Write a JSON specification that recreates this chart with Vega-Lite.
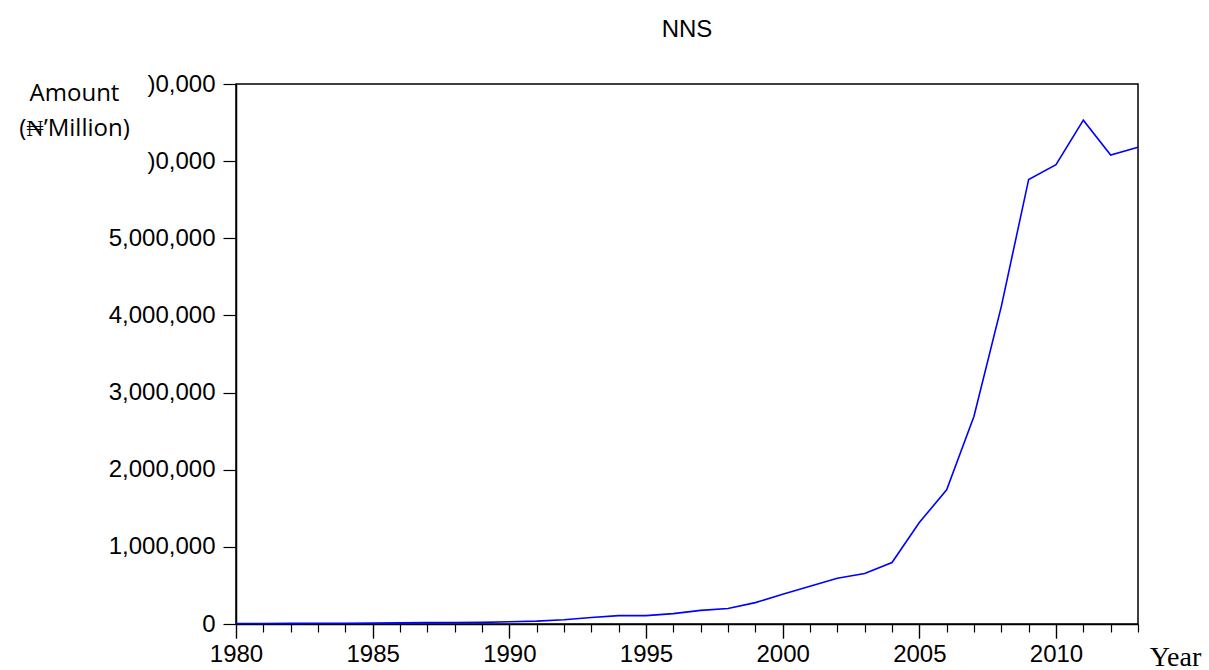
{
  "$schema": "https://vega.github.io/schema/vega-lite/v6.json",
  "width": 902,
  "height": 540,
  "autosize": {"type": "none"},
  "padding": {"left": 236, "top": 84, "right": 71, "bottom": 46},
  "background": "white",
  "title": {"text": "NNS", "font": "Liberation Sans", "fontSize": 24, "fontWeight": "normal", "color": "black", "anchor": "middle", "baseline": "alphabetic", "offset": 11},
  "config": {"view": {"stroke": "black", "strokeWidth": 1.5}, "axis": {"grid": false, "ticks": true, "tickWidth": 1.2, "tickOpacity": 1, "domainColor": "black", "domainWidth": 1.5, "tickColor": "black", "labelColor": "black", "labelFont": "Liberation Sans", "labelFontSize": 24, "titleColor": "black"}},
  "data": {"values": [
    {"year": 1980, "nns": 5800}, {"year": 1981, "nns": 6500}, {"year": 1982, "nns": 7500}, {"year": 1983, "nns": 9000},
    {"year": 1984, "nns": 10500}, {"year": 1985, "nns": 12500}, {"year": 1986, "nns": 14000}, {"year": 1987, "nns": 18000},
    {"year": 1988, "nns": 20000}, {"year": 1989, "nns": 21000}, {"year": 1990, "nns": 29000}, {"year": 1991, "nns": 37000},
    {"year": 1992, "nns": 55000}, {"year": 1993, "nns": 85000}, {"year": 1994, "nns": 108000}, {"year": 1995, "nns": 108000},
    {"year": 1996, "nns": 134000}, {"year": 1997, "nns": 177000}, {"year": 1998, "nns": 200000}, {"year": 1999, "nns": 277000},
    {"year": 2000, "nns": 385000}, {"year": 2001, "nns": 488000}, {"year": 2002, "nns": 592000}, {"year": 2003, "nns": 655000},
    {"year": 2004, "nns": 797000}, {"year": 2005, "nns": 1316000}, {"year": 2006, "nns": 1739000}, {"year": 2007, "nns": 2693000},
    {"year": 2008, "nns": 4118000}, {"year": 2009, "nns": 5763000}, {"year": 2010, "nns": 5954000}, {"year": 2011, "nns": 6531000},
    {"year": 2012, "nns": 6079000}, {"year": 2013, "nns": 6180000}
  ]},
  "layer": [
    {
      "mark": {"type": "line", "opacity": 0},
      "encoding": {
        "x": {"field": "year", "type": "quantitative", "scale": {"domain": [1980, 2013], "nice": false, "zero": false},
          "axis": {"orient": "bottom", "values": [1980,1981,1982,1983,1984,1985,1986,1987,1988,1989,1990,1991,1992,1993,1994,1995,1996,1997,1998,1999,2000,2001,2002,2003,2004,2005,2006,2007,2008,2009,2010,2011,2012,2013],
            "labels": false, "ticks": true, "tickColor": "black",
            "tickSize": {"condition": {"test": "datum.value % 5 === 0", "value": 14}, "value": 8},
            "domain": false, "title": null}},
        "y": {"field": "nns", "type": "quantitative", "scale": {"domain": [0, 7000000], "nice": false},
          "axis": {"values": [0, 1000000, 2000000, 3000000, 4000000, 5000000, 6000000, 7000000], "format": ",d", "ticks": true, "tickSize": 13, "labelPadding": 8, "labelFlush": false, "labelOverlap": false,
            "labelExpr": "datum.value >= 6000000 ? ')0,000' : datum.label",
            "title": ["Amount", "(₦’Million)"], "titleFont": "Open Sans", "titleFontSize": 24, "titleFontWeight": "normal", "titleAngle": 0, "titleAlign": "center", "titleBaseline": "alphabetic", "titleX": -162, "titleY": 16, "titleLineHeight": 35}}
      }
    },
    {
      "mark": {"type": "line", "color": "#0000FF", "strokeWidth": 1.6},
      "encoding": {
        "x": {"field": "year", "type": "quantitative",
          "axis": {"orient": "bottom", "values": [1980, 1985, 1990, 1995, 2000, 2005, 2010], "format": "d", "ticks": true, "tickColor": "black", "tickSize": 14, "labelPadding": 4, "labelFlush": false, "labelOverlap": false,
            "title": "Year", "titleFont": "Liberation Serif", "titleFontSize": 28, "titleFontWeight": "normal", "titleX": 939, "titleY": 41, "titleAlign": "center", "titleBaseline": "alphabetic"}},
        "y": {"field": "nns", "type": "quantitative"}
      }
    }
  ],
  "resolve": {"axis": {"x": "independent"}}
}
